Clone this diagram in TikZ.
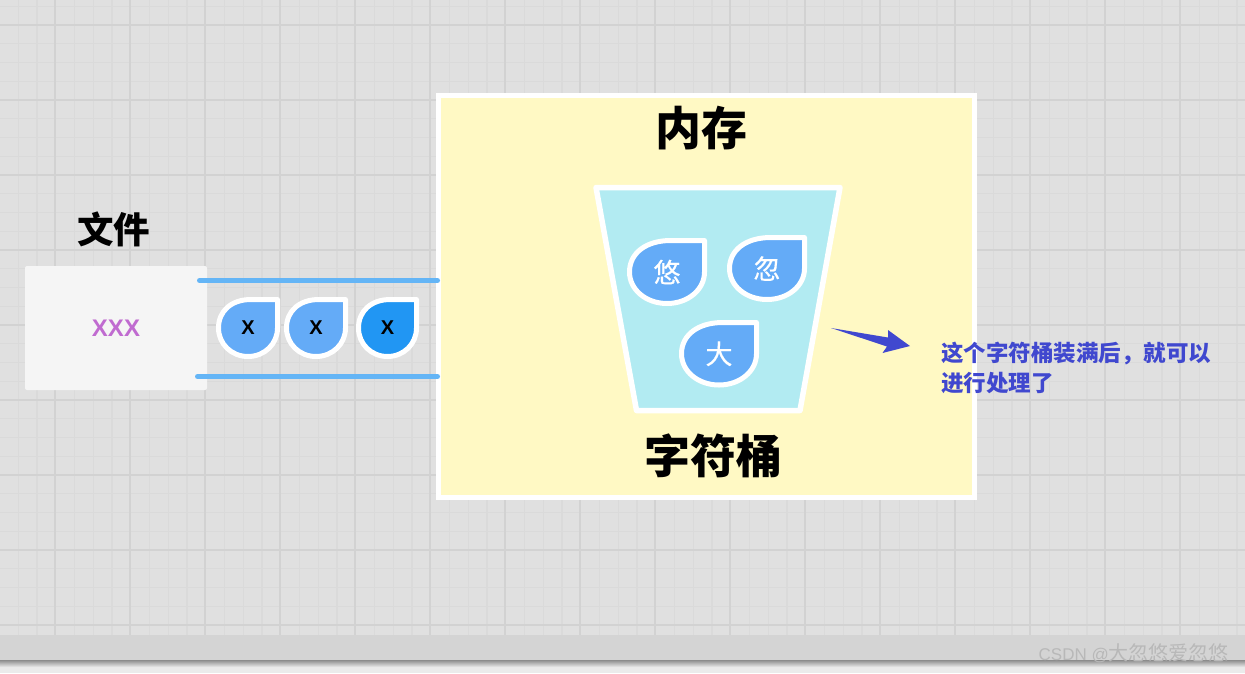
\documentclass[tikz,border=0pt]{standalone}
\usepackage{fontspec}
\setmainfont{Liberation Sans}
\newfontfamily\cjk{Noto Sans CJK SC}
\newfontfamily\cjkmid[FakeBold=0.5]{Noto Sans CJK SC}
\definecolor{gridbg}{HTML}{E0E0E0}
\definecolor{gridminor}{HTML}{DADADA}
\definecolor{gridmajor}{HTML}{D2D2D2}
\definecolor{memyellow}{HTML}{FFF9C4}
\definecolor{bucketblue}{HTML}{B2EBF2}
\definecolor{dropblue}{HTML}{64ABF7}
\definecolor{dropdark}{HTML}{2196F3}
\definecolor{linkblue}{HTML}{64B5F6}
\definecolor{noteblue}{HTML}{4048CF}
\definecolor{xxxpurple}{HTML}{C06BD0}
\tikzset{
  filebox/.style={fill=#1, rounded corners=2pt, inner sep=0pt},
  title/.style={inner sep=0pt, font=\cjk\bfseries\fontsize{#1}{#1}\selectfont},
  dropline/.style={draw=white, line width=5pt, line join=round},
  link/.style={linkblue, line width=5pt, line cap=round},
}
% 水滴：名字, 左, 上, 宽, 高, 颜色, 文字
\newcommand{\waterdrop}[7]{
  \begin{scope}[shift={(#2,#3)}, x=#4pt, y=-#5pt]
    \draw[dropline, fill=#6] (1,0) -- (1,.5) .. controls (1,.78) and (.78,1) .. (.5,1)
      .. controls (.22,1) and (0,.78) .. (0,.5) .. controls (0,.2) and (.22,0) .. (.55,0) -- cycle;
    \node[inner sep=0pt] (#1) at (.5,.5) {#7};
  \end{scope}
}
\newcommand{\xmark}{\bfseries\fontsize{20}{20}\selectfont X}
\newcommand{\hanmark}[1]{\textcolor{white}{\cjkmid\fontsize{27}{27}\selectfont #1}}
\begin{document}
\begin{tikzpicture}[x=1pt, y=-1pt]
  \useasboundingbox (0,0) rectangle (1245,673);
  % 背景网格
  \fill[gridbg] (0,0) rectangle (1245,673);
  \foreach \i in {0,...,66} {
    \draw[gridminor, line width=1.3pt] ({-0.5+18.75*\i},0) -- ({-0.5+18.75*\i},635);
  }
  \foreach \i in {0,...,33} {
    \draw[gridminor, line width=1.3pt] (0,{6.25+18.75*\i}) -- (1245,{6.25+18.75*\i});
  }
  \foreach \x in {55,130,...,1255} {
    \draw[gridmajor, line width=1.3pt] (\x,0) -- (\x,635);
  }
  \foreach \y in {25,100,...,625} {
    \draw[gridmajor, line width=1.3pt] (0,\y) -- (1245,\y);
  }
  % 底部灰条
  \fill[black!17] (0,635) rectangle (1245,660);
  \fill[black!8] (0,660) rectangle (1245,673);
  \shade[top color=black!45, bottom color=black!8] (0,660) rectangle (1245,667);
  \node[anchor=east, inner sep=0pt, text=black!28, font=\fontsize{17}{17}\selectfont] (mark) at (1229,653) {CSDN @{\cjk\fontsize{20}{20}\selectfont 大忽悠爱忽悠}};
  % 内存
  \node[draw=white, line width=5pt, fill=memyellow, minimum width=536pt, minimum height=402pt, inner sep=0pt] (mem) at (706.5,296.5) {};
  \node[title=46] (memlabel) at (701,128) {内存};
  % 字符桶
  \draw[white, line width=5.5pt, line join=round, fill=bucketblue] (596,187.5) -- (840,187.5) -- (800,410.5) -- (636.5,410.5) -- cycle;
  \node[title=46] (bucketlabel) at (713.5,456) {字符桶};
  \waterdrop{you}{629.5}{240.5}{75}{63}{dropblue}{\hanmark{悠}}
  \waterdrop{hu}{729.5}{237.5}{75}{62}{dropblue}{\hanmark{忽}}
  \waterdrop{da}{681.5}{322.5}{75}{62.5}{dropblue}{\hanmark{大}}
  % 文件
  \node[filebox=black!4, minimum width=182pt, minimum height=124pt, text=xxxpurple, font=\bfseries\fontsize{24}{24}\selectfont] (file) at (116,328) {\raisebox{-1pt}{XXX}};
  \node[title=36.5] (filelabel) at (113.5,229) {文件};
  % 文件流
  \coordinate (topstart) at (199.5,280.5);
  \coordinate (topend) at (437.5,280.5);
  \coordinate (botstart) at (197.5,376.5);
  \coordinate (botend) at (437.5,376.5);
  \draw[link] (topstart) -- (topend);
  \draw[link] (botstart) -- (botend);
  \waterdrop{xa}{218.5}{299.5}{59}{57}{dropblue}{\xmark}
  \waterdrop{xb}{286.5}{299.5}{59}{57}{dropblue}{\xmark}
  \waterdrop{xc}{358.5}{299.5}{58}{57}{dropdark}{\xmark}
  % 箭头
  \fill[noteblue] (831,328) -- (888,337.5) -- (888,330) -- (910,346) -- (882.5,353) -- (887,346.5) -- cycle;
  \node[anchor=north west, inner sep=0pt, align=left, text=noteblue, font=\cjk\bfseries\fontsize{22.5}{30}\selectfont] (note) at (941,341.5) {这个字符桶装满后，就可以\\进行处理了};
\end{tikzpicture}
\end{document}
